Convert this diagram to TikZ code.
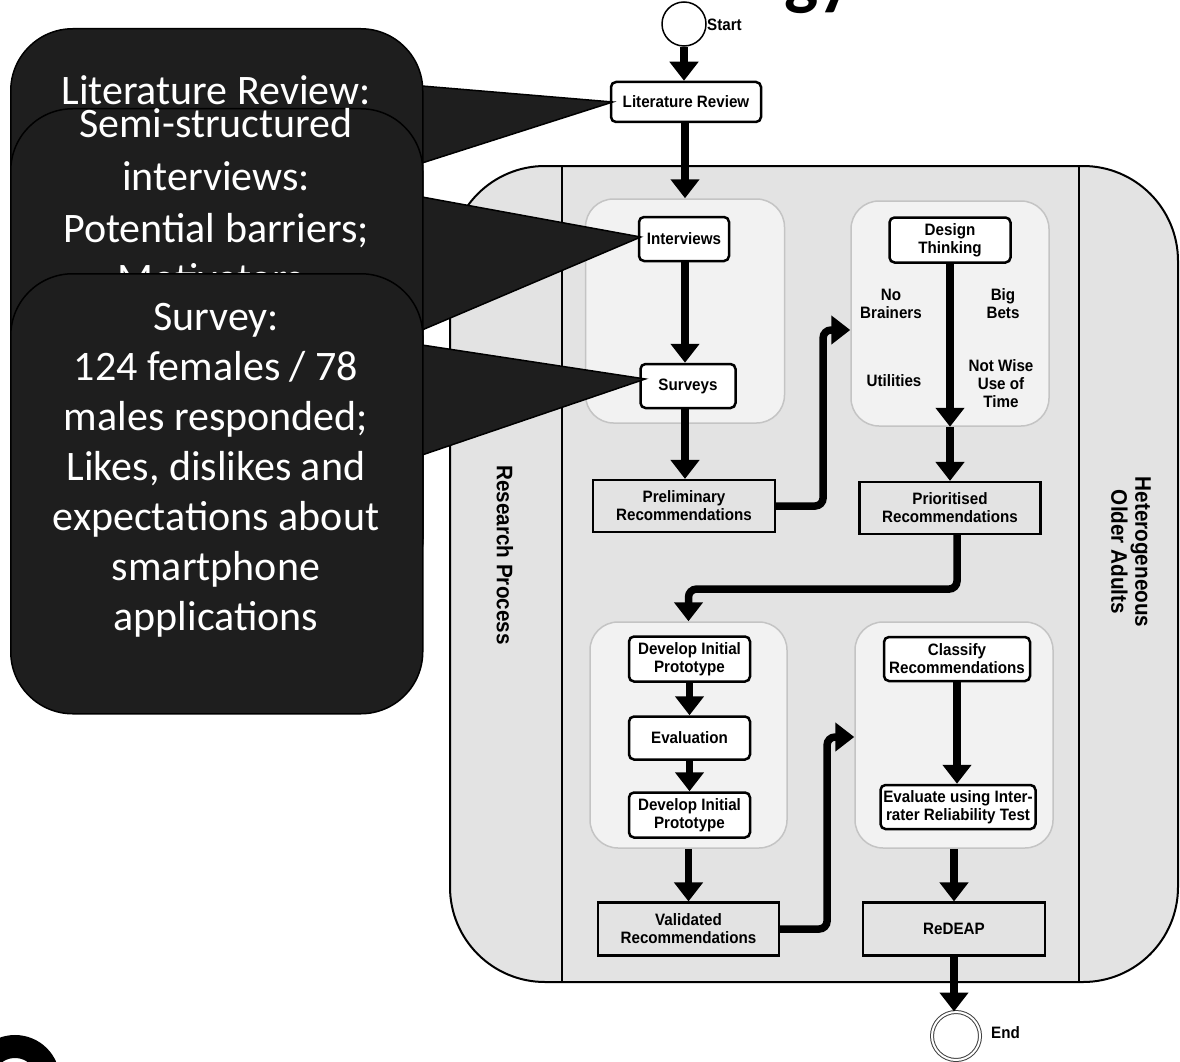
\documentclass[tikz,border=0pt]{standalone}
\usepackage{fontspec}
\setmainfont{Liberation Sans}
\newfontfamily\diagfont[FakeStretch=0.92]{Liberation Sans}
\newfontfamily\callfont{Carlito}
\usetikzlibrary{arrows.meta,calc}

\definecolor{lanegray}{HTML}{E3E3E3}
\definecolor{groupfill}{HTML}{F2F2F2}
\definecolor{groupline}{HTML}{C4C4C4}
\definecolor{calloutfill}{HTML}{1E1E1E}

\tikzset{
  flowtext/.style={font={\diagfont\bfseries\fontsize{16.5}{18}\selectfont}, align=center},
  stepbox/.style={flowtext, draw=black, fill=white, line width=2.5pt, rounded corners=5pt, inner sep=0pt},
  recbox/.style={flowtext, draw=black, fill=lanegray, line width=2.2pt, inner sep=0pt},
  groupbox/.style={draw=groupline, fill=groupfill, line width=1.5pt, rounded corners=28pt, inner sep=0pt},
  conn/.style={line width=7.5pt, -{Triangle[width=28pt,length=19pt]}, rounded corners=8pt},
  calloutshape/.style={fill=calloutfill, draw=black, line width=1.5pt},
  calloutbox/.style={calloutshape, rounded corners=62pt, anchor=north west, inner sep=0pt, minimum width=412pt},
  callouttext/.style={font={\callfont\fontsize{42}{50}\selectfont}, text=white, anchor=base, inner sep=0pt},
  lanelabel/.style={font={\diagfont\bfseries\fontsize{22.5}{24}\selectfont}, align=center, rotate=-90},
  plainlabel/.style={flowtext, inner sep=0pt},
}

\begin{document}
\begin{tikzpicture}[x=1pt,y=-1pt]
\useasboundingbox (0,0) rectangle (1180,1062);
\fill[white] (0,0) rectangle (1180,1062);

% heading fragment and logo ring at the page edges
\node[anchor=base west, inner sep=0pt, font={\callfont\bfseries\fontsize{72}{72}\selectfont}] (titlefrag) at (784,2) {gy};
\draw[line width=23pt] (15,1080) circle[radius=33.5];

% pool with two lanes
\node[draw=black, fill=lanegray, line width=2pt, rounded corners=95pt, minimum width=728pt, minimum height=816pt, inner sep=0pt] (pool) at (814,574) {};
\draw[line width=2pt] (562,166) -- (562,982);
\draw[line width=2pt] (1079,166) -- (1079,982);
\node[lanelabel] (laneleft) at (505,555) {Research Process};
\node[lanelabel] (laneright) at (1131,552) {Heterogeneous\\Older Adults};

% start and literature review
\node[circle, draw=black, fill=white, line width=1.5pt, minimum size=44pt, inner sep=0pt] (start) at (684,24) {};
\node[plainlabel, anchor=west] (startlbl) at (707,25) {Start};
\node[stepbox, minimum width=150pt, minimum height=40pt] (lit) at (686,102) {Literature Review};

% groups of activities
\node[groupbox, minimum width=199pt, minimum height=224pt] (g1) at (685,311) {};
\node[groupbox, minimum width=198pt, minimum height=225pt] (g2) at (950,313.5) {};
\node[groupbox, minimum width=197pt, minimum height=226pt] (g3) at (688.5,735) {};
\node[groupbox, minimum width=198pt, minimum height=226pt] (g4) at (954,735) {};

% first group
\node[stepbox, minimum width=90pt, minimum height=44pt] (interviews) at (684,239) {Interviews};
\node[stepbox, minimum width=95pt, minimum height=44pt] (surveys) at (688,386) {Surveys};
\node[recbox, minimum width=182pt, minimum height=52pt] (prelim) at (684,506) {Preliminary\\Recommendations};

% second group
\node[stepbox, minimum width=121pt, minimum height=45pt] (design) at (950,240) {Design\\Thinking};
\node[plainlabel] (nobrain) at (891,304) {No\\Brainers};
\node[plainlabel] (bigbets) at (1003,304) {Big\\Bets};
\node[plainlabel] (utilities) at (894,381) {Utilities};
\node[plainlabel] (notwise) at (1001,384) {Not Wise\\Use of\\Time};
\node[recbox, minimum width=181pt, minimum height=52pt] (prior) at (950,508) {Prioritised\\Recommendations};

% third group
\node[stepbox, minimum width=121pt, minimum height=45pt] (dev1) at (689.5,659) {Develop Initial\\Prototype};
\node[stepbox, minimum width=121pt, minimum height=43pt] (eval) at (689.5,738) {Evaluation};
\node[stepbox, minimum width=121pt, minimum height=45pt] (dev2) at (689.5,815) {Develop Initial\\Prototype};
\node[recbox, minimum width=181pt, minimum height=53pt] (valid) at (688.5,929) {Validated\\Recommendations};

% fourth group
\node[stepbox, minimum width=146pt, minimum height=44pt] (classify) at (957,659) {Classify\\Recommendations};
\node[stepbox, minimum width=155pt, minimum height=44pt] (evaluate) at (958,807) {Evaluate using Inter-\\rater Reliability Test};
\node[recbox, minimum width=182pt, minimum height=53pt] (redeap) at (954,929) {ReDEAP};

% end
\node[circle, draw=black!75, double=white, double distance=2pt, line width=1pt, minimum size=48pt, inner sep=0pt] (endc) at (956,1036) {};
\node[plainlabel, anchor=west] (endlbl) at (991,1033) {End};

% connectors
\draw[conn] (start.south) -- (start.south |- lit.north);
\draw[conn] (lit.south -| g1.north) -- (g1.north);
\draw[conn] (interviews.south -| g1.north) -- (surveys.north -| g1.north);
\draw[conn] (surveys.south -| g1.north) -- (prelim.north -| g1.north);
\draw[conn] (prelim.east) -- ++(47,0) |- ([yshift=-16.5pt]g2.west);
\draw[conn] (design.south) -- (design.south |- g2.south);
\draw[conn] (g2.south) -- (g2.south |- prior.north);
\draw[conn] ([xshift=7pt]prior.south) -- ++(0,54) -| (g3.north);
\draw[conn] (dev1.south) -- (eval.north);
\draw[conn] (eval.south) -- (dev2.north);
\draw[conn] (g3.south) -- (g3.south |- valid.north);
\draw[conn] (valid.east) -- ++(47,0) |- ([yshift=-2pt]g4.west);
\draw[conn] (classify.south) -- (classify.south |- evaluate.north);
\draw[conn] (g4.south) -- (g4.south |- redeap.north);
\draw[conn] (redeap.south) -- (redeap.south |- endc.north);

% callout: literature review
\draw[calloutshape] (422,86) -- ([xshift=3pt]lit.west) -- (422,163) -- cycle;
\node[calloutbox, minimum height=572pt] (call1) at (10,28) {};
\node[callouttext] (call1a) at (216,105) {Literature Review:};

% callout: interviews
\draw[calloutshape] (422,197) -- ([xshift=3pt,yshift=2pt]interviews.west) -- (422,330) -- cycle;
\node[calloutbox, minimum height=492pt] (call2) at (10,108) {};
\node[callouttext] (call2a) at (216,138) {Semi-structured};
\node[callouttext] (call2b) at (216,190) {interviews:};
\node[callouttext] (call2c) at (216,242) {Potential barriers;};
\node[callouttext] (call2d) at (216,292) {Motivators;};

% callout: survey
\draw[calloutshape] (422,345) -- ([xshift=6pt,yshift=7pt]surveys.west) -- (422,455) -- cycle;
\node[calloutbox, minimum height=440pt] (call3) at (10,273) {};
\node[callouttext] (call3a) at (216,330) {Survey:};
\node[callouttext] (call3b) at (216,380) {124 females / 78};
\node[callouttext] (call3c) at (216,430) {males responded;};
\node[callouttext] (call3d) at (216,480) {Likes, dislikes and};
\node[callouttext] (call3e) at (216,530) {expectations about};
\node[callouttext] (call3f) at (216,580) {smartphone};
\node[callouttext] (call3g) at (216,630) {applications};
\end{tikzpicture}
\end{document}
